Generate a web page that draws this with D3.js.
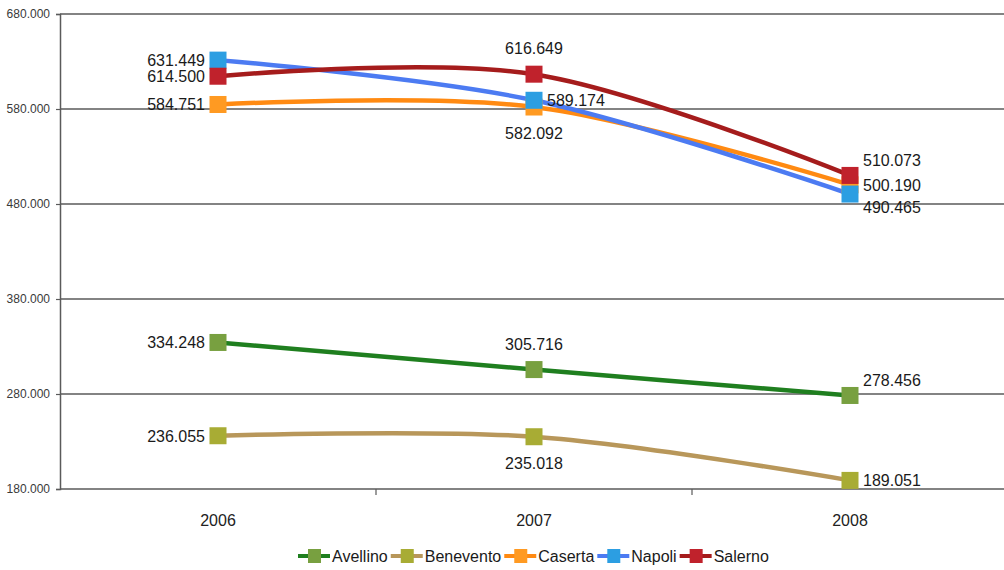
<!DOCTYPE html>
<html>
<head>
<meta charset="utf-8">
<script src="https://cdn.jsdelivr.net/npm/d3@7"></script>
<style>
  html, body { margin: 0; padding: 0; background: #ffffff; }
  svg { display: block; font-family: "Liberation Sans", Arial, sans-serif; }
</style>
</head>
<body>
<svg id="chart" width="1004" height="570"></svg>
<script>
// ---- data ----
const years = ["2006", "2007", "2008"];
const seriesNames = ["Avellino", "Benevento", "Caserta", "Napoli", "Salerno"];
const avellino  = [334.248, 305.716, 278.456];
const benevento = [236.055, 235.018, 189.051];
const caserta   = [584.751, 582.092, 500.190];
const napoli    = [631.449, 589.174, 490.465];
const salerno   = [614.500, 616.649, 510.073];
const yTicks = [180, 280, 380, 480, 580, 680];
// label placement per series per year
const avellinoPos  = ["left", "above", "rightUp"];
const beneventoPos = ["left", "below", "right"];
const casertaPos   = ["left", "below", "right"];
const napoliPos    = ["left", "right", "rightDown"];
const salernoPos   = ["left", "above", "rightUp"];

const lineColors   = ["#1f7f1f", "#b8975a", "#ff8a12", "#4c7bf2", "#a51c1c"];
const markerColors = ["#78a040", "#a8ac34", "#ff9a22", "#2c9ee2", "#c0222c"];

const values = [avellino, benevento, caserta, napoli, salerno];
const positions = [avellinoPos, beneventoPos, casertaPos, napoliPos, salernoPos];

const series = seriesNames.map((name, i) => ({
  name, values: values[i], pos: positions[i], line: lineColors[i], marker: markerColors[i]
}));

// ---- layout ----
const svg = d3.select("#chart");
const mLeft = 60, mRight = 1008, mTop = 14, mBottom = 489;

const x = d3.scaleBand().domain(years).range([mLeft, mRight]).padding(0);
const cx = d => x(d) + x.bandwidth() / 2;
const y = d3.scaleLinear().domain([180, 680]).range([mBottom, mTop]);

const fmt = v => d3.format(".3f")(v);

// gridlines
svg.append("g").selectAll("line").data(yTicks).join("line")
  .attr("x1", mLeft).attr("x2", 1004)
  .attr("y1", d => y(d)).attr("y2", d => y(d))
  .attr("stroke", "#5a5a5a").attr("stroke-width", 1.5);

// left axis
const yAxis = d3.axisLeft(y).tickValues(yTicks).tickSize(4)
  .tickFormat(d => d3.format(".3f")(d));
const gy = svg.append("g").attr("transform", `translate(${mLeft},0)`).call(yAxis);
gy.select(".domain").attr("stroke", "#5a5a5a").attr("stroke-width", 1.5);
gy.selectAll(".tick line").attr("stroke", "#5a5a5a").attr("stroke-width", 1.2);
gy.selectAll(".tick text").attr("font-size", 12).attr("fill", "#3a3a3a")
  .attr("font-family", "Liberation Sans, Arial, sans-serif").attr("dx", -3);

// bottom axis (category boundaries ticks)
const gx = svg.append("g").attr("transform", `translate(0,${mBottom})`);
gx.selectAll("line").data(years.slice(1)).join("line")
  .attr("x1", d => x(d)).attr("x2", d => x(d))
  .attr("y1", 0).attr("y2", 6)
  .attr("stroke", "#5a5a5a").attr("stroke-width", 1.2);
gx.selectAll("text").data(years).join("text")
  .attr("x", d => cx(d)).attr("y", 37)
  .attr("text-anchor", "middle").attr("font-size", 16).attr("fill", "#222")
  .text(d => d);

// lines
const lineGen = d3.line()
  .x((d, i) => cx(years[i]))
  .y(d => y(d))
  .curve(d3.curveCardinal.tension(0));

const gLines = svg.append("g");
series.forEach(s => {
  gLines.append("path").datum(s.values)
    .attr("d", lineGen)
    .attr("fill", "none")
    .attr("stroke", s.line)
    .attr("stroke-width", 4.5)
    .attr("stroke-linecap", "round");
});

// markers
const ms = 17;
series.forEach(s => {
  svg.append("g").selectAll("rect").data(s.values).join("rect")
    .attr("x", (d, i) => cx(years[i]) - ms / 2)
    .attr("y", d => y(d) - ms / 2)
    .attr("width", ms).attr("height", ms)
    .attr("fill", s.marker);
});

// labels
const offsets = {
  left:      { dx: -13, dy: 6,   anchor: "end" },
  right:     { dx: 13,  dy: 6,   anchor: "start" },
  rightUp:   { dx: 13,  dy: -9,  anchor: "start" },
  rightDown: { dx: 13,  dy: 19,  anchor: "start" },
  above:     { dx: 0,   dy: -20, anchor: "middle" },
  below:     { dx: 0,   dy: 32,  anchor: "middle" }
};
const gLab = svg.append("g");
series.forEach(s => {
  s.values.forEach((v, i) => {
    const o = offsets[s.pos[i]];
    gLab.append("text")
      .attr("x", cx(years[i]) + o.dx)
      .attr("y", y(v) + o.dy)
      .attr("text-anchor", o.anchor)
      .attr("font-size", 16).attr("fill", "#1a1a1a")
      .text(fmt(v));
  });
});

// legend
const legend = svg.append("g").attr("transform", "translate(298,556)");
let lx = 0;
series.forEach(s => {
  const g = legend.append("g").attr("transform", `translate(${lx},0)`);
  g.append("line").attr("x1", 0).attr("x2", 32).attr("y1", 0).attr("y2", 0)
    .attr("stroke", s.line).attr("stroke-width", 4);
  g.append("rect").attr("x", 10).attr("y", -7).attr("width", 13).attr("height", 14)
    .attr("fill", s.marker);
  const t = g.append("text").attr("x", 34).attr("y", 6)
    .attr("font-size", 16).attr("fill", "#1a1a1a").text(s.name);
  const w = t.node().getComputedTextLength();
  lx += 34 + w + 3;
});
</script>
</body>
</html>
